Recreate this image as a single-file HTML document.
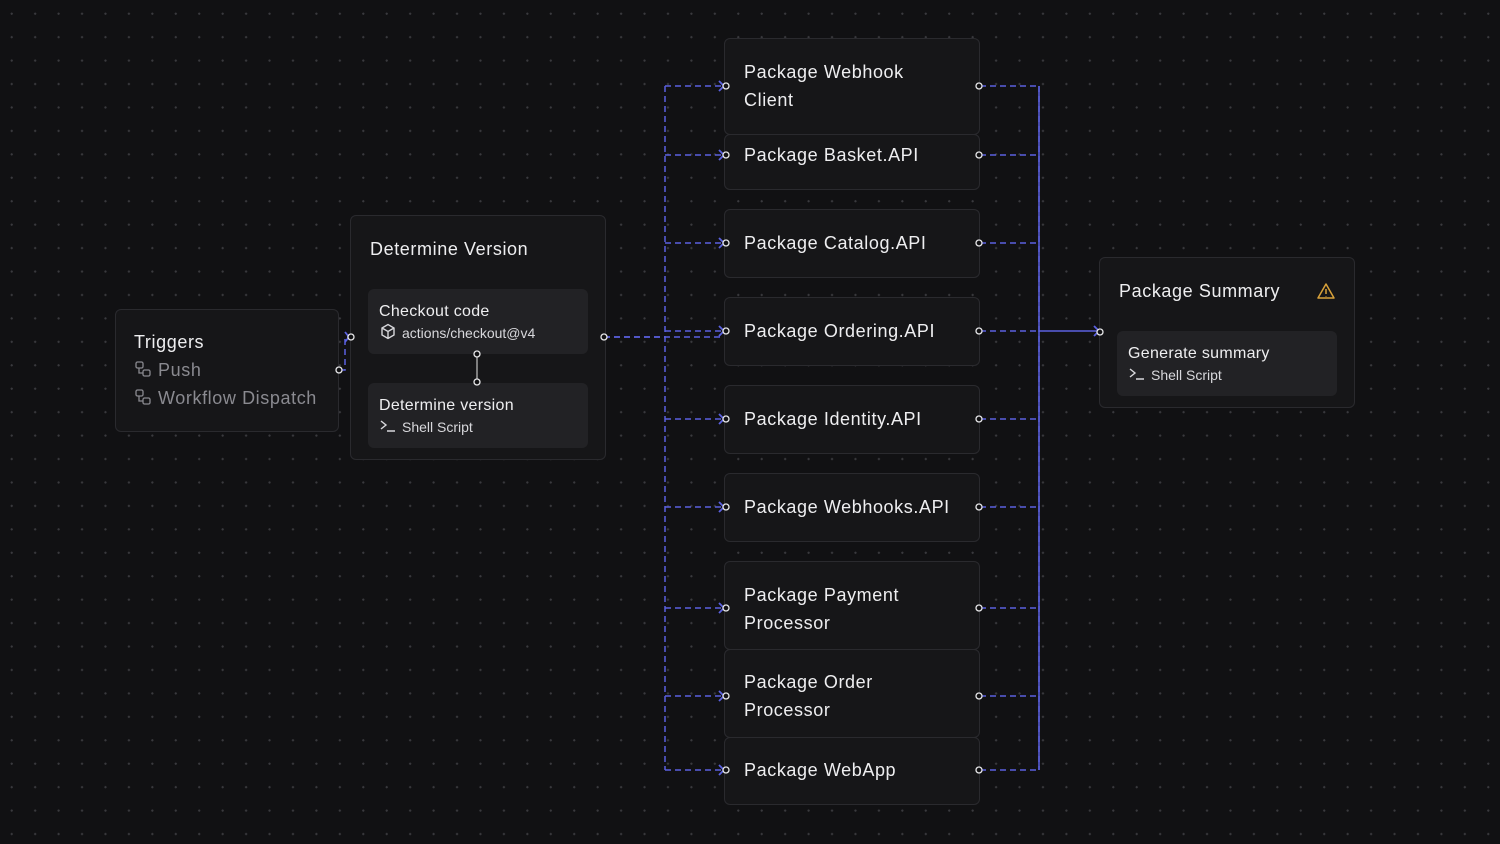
<!DOCTYPE html>
<html><head><meta charset="utf-8"><style>
*{box-sizing:border-box;margin:0;padding:0}
body{width:1500px;height:844px;overflow:hidden;background:#111113;position:relative;font-family:"Liberation Sans",sans-serif;color:#ececee;
background-image:radial-gradient(circle,#3a3a3e 1px,transparent 1.2px);background-size:23.45px 23.45px;background-position:0px 2px}
.box{position:absolute;background:#161618;border:1.5px solid #2a2a2e;border-radius:6px}
.lbl{position:absolute;font-size:18px;line-height:28px;color:#eeeef0;letter-spacing:0.6px}
.inner{position:absolute;background:#222225;border-radius:6px}
.t{font-size:16px;color:#eeeef0;position:absolute;letter-spacing:0.3px}
.s{font-size:14px;color:#d8d8dc;position:absolute}
svg{position:absolute;left:0;top:0}
</style></head><body>
<div class="box" style="left:115px;top:309px;width:224px;height:123px"></div>
<div class="lbl" style="left:134px;top:328px">Triggers</div>
<div class="lbl" style="left:158px;top:356px;color:#8a8a90">Push</div>
<div class="lbl" style="left:158px;top:384px;color:#8a8a90">Workflow Dispatch</div>
<svg width="20" height="60" style="left:134px;top:360px" fill="none" stroke="#8a8a90" stroke-width="1.3"><rect x="2" y="2" width="7" height="6" rx="1.5"/><rect x="9" y="10" width="7" height="6" rx="1.5"/><path d="M5 8v5h4"/><rect x="2" y="30" width="7" height="6" rx="1.5"/><rect x="9" y="38" width="7" height="6" rx="1.5"/><path d="M5 36v5h4"/></svg>

<div class="box" style="left:350px;top:215px;width:256px;height:245px"></div>
<div class="lbl" style="left:370px;top:235px">Determine Version</div>
<div class="inner" style="left:368px;top:289px;width:220px;height:65px"></div>
<div class="t" style="left:379px;top:303px">Checkout code</div>
<div class="s" style="left:402px;top:325px">actions/checkout@v4</div>
<div class="inner" style="left:368px;top:383px;width:220px;height:65px"></div>
<div class="t" style="left:379px;top:397px">Determine version</div>
<div class="s" style="left:402px;top:419px">Shell Script</div>

<div class="box" style="left:724px;top:134px;width:256px;height:56px"></div>
<div class="box" style="left:724px;top:38px;width:256px;height:97px"></div>
<div class="lbl" style="left:744px;top:58px">Package Webhook<br>Client</div>
<div class="lbl" style="left:744px;top:141px">Package Basket.API</div>
<div class="box" style="left:724px;top:209px;width:256px;height:69px"></div>
<div class="lbl" style="left:744px;top:229px">Package Catalog.API</div>
<div class="box" style="left:724px;top:297px;width:256px;height:69px"></div>
<div class="lbl" style="left:744px;top:317px">Package Ordering.API</div>
<div class="box" style="left:724px;top:385px;width:256px;height:69px"></div>
<div class="lbl" style="left:744px;top:405px">Package Identity.API</div>
<div class="box" style="left:724px;top:473px;width:256px;height:69px"></div>
<div class="lbl" style="left:744px;top:493px">Package Webhooks.API</div>
<div class="box" style="left:724px;top:561px;width:256px;height:89px"></div>
<div class="lbl" style="left:744px;top:581px">Package Payment<br>Processor</div>
<div class="box" style="left:724px;top:649px;width:256px;height:89px"></div>
<div class="lbl" style="left:744px;top:668px">Package Order<br>Processor</div>
<div class="box" style="left:724px;top:737px;width:256px;height:68px"></div>
<div class="lbl" style="left:744px;top:756px">Package WebApp</div>

<div class="box" style="left:1099px;top:257px;width:256px;height:151px"></div>
<div class="lbl" style="left:1119px;top:277px">Package Summary</div>
<div class="inner" style="left:1117px;top:331px;width:220px;height:65px"></div>
<div class="t" style="left:1128px;top:345px">Generate summary</div>
<div class="s" style="left:1151px;top:367px">Shell Script</div>

<svg width="1500" height="844" fill="none">
<g stroke="#d8d8dc" stroke-width="1.4">
<path d="M382 328l6-3.5 6 3.5v7l-6 3.5-6-3.5z M382 328l6 3.5 6-3.5 M388 331.5v7"/>
<path d="M381 421l5 4-5 4 M387 431h8"/><path d="M1130 369l5 4-5 4 M1136 379h8"/>
<path d="M477 357v23" stroke="#aaa"/>
</g>
<path d="M1326 284l8 14h-16z M1326 289v5 M1326 296v.5" stroke="#d9a23a" stroke-width="1.5" stroke-linejoin="round"/>
<g stroke="#5b61e0" stroke-width="1.5" stroke-dasharray="6 4">
<path d="M340 370h5v-33h5"/>
<path d="M604 337h61 M665 86v684"/>
<path d="M665 86h60 M665 155h60 M665 243h60 M665 331h60 M604 337h120 M665 419h60 M665 507h60 M665 608h60 M665 696h60 M665 770h60"/>
<path d="M980 86h59 M980 155h59 M980 243h59 M980 331h59 M980 419h59 M980 507h59 M980 608h59 M980 696h59 M980 770h59 M1039 86v684"/>
</g>
<path d="M1039 86v684 M1039 331h60" stroke="#5b61e0" stroke-width="1.5"/>
<g stroke="#5b61e0" stroke-width="1.8">
<path d="M345 332l4 5-4 5"/><path d="M1094 326l5 5-5 5"/>
<path d="M719 81l5 5-5 5 M719 150l5 5-5 5 M719 238l5 5-5 5 M719 326l5 5-5 5 M719 414l5 5-5 5 M719 502l5 5-5 5 M719 603l5 5-5 5 M719 691l5 5-5 5 M719 765l5 5-5 5"/>
</g>
<g stroke="#e8e8ea" stroke-width="1.3" fill="#111113">
<circle cx="339" cy="370" r="3"/><circle cx="351" cy="337" r="3"/><circle cx="604" cy="337" r="3"/>
<circle cx="477" cy="354" r="3"/><circle cx="477" cy="382" r="3"/>
<circle cx="726" cy="86" r="3"/><circle cx="726" cy="155" r="3"/><circle cx="726" cy="243" r="3"/><circle cx="726" cy="331" r="3"/><circle cx="726" cy="419" r="3"/><circle cx="726" cy="507" r="3"/><circle cx="726" cy="608" r="3"/><circle cx="726" cy="696" r="3"/><circle cx="726" cy="770" r="3"/>
<circle cx="979" cy="86" r="3"/><circle cx="979" cy="155" r="3"/><circle cx="979" cy="243" r="3"/><circle cx="979" cy="331" r="3"/><circle cx="979" cy="419" r="3"/><circle cx="979" cy="507" r="3"/><circle cx="979" cy="608" r="3"/><circle cx="979" cy="696" r="3"/><circle cx="979" cy="770" r="3"/>
<circle cx="1100" cy="332" r="3"/>
</g>
</svg>
</body></html>
